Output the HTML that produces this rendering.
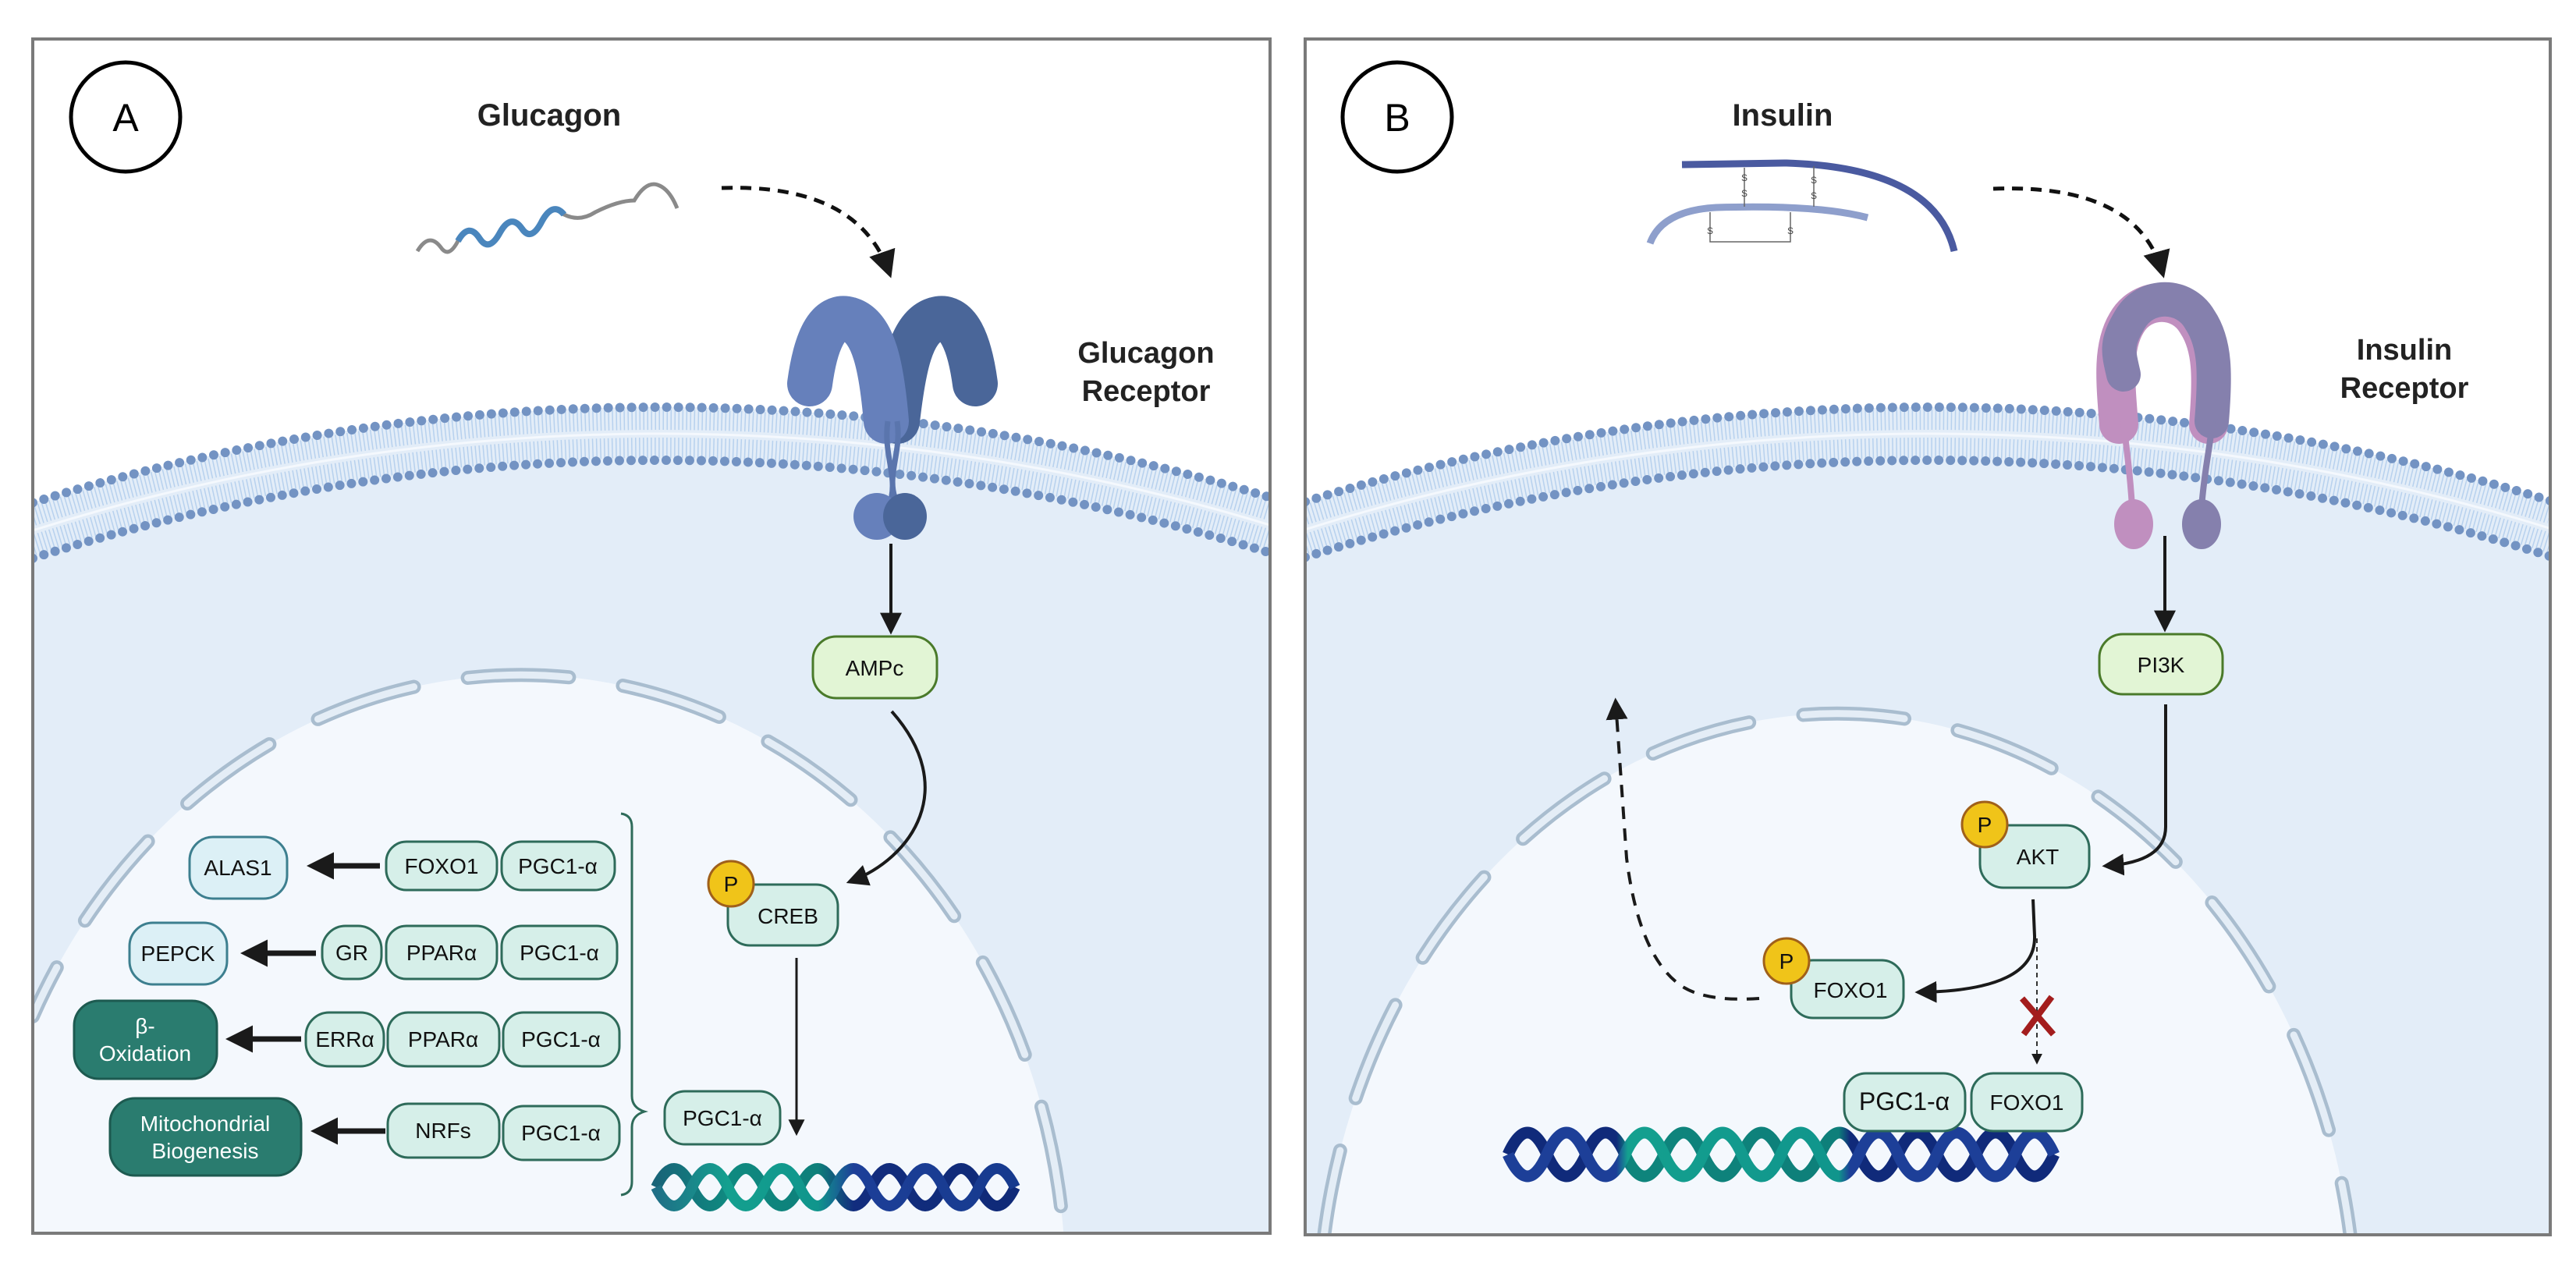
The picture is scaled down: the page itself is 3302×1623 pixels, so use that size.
<!DOCTYPE html>
<html><head><meta charset="utf-8"><style>
html,body{margin:0;padding:0;background:#fff;width:3302px;height:1623px;overflow:hidden}
svg{display:block;position:absolute;left:0;top:0}
text{font-family:"Liberation Sans",sans-serif}
</style></head><body>
<svg width="3302" height="1623" viewBox="0 0 3302 1623" xmlns="http://www.w3.org/2000/svg" overflow="hidden">
<defs>
<clipPath id="ca"><rect x="42" y="50" width="1586" height="1531"/></clipPath>
<clipPath id="cb"><rect x="1673" y="50" width="1596" height="1533"/></clipPath>
<marker id="ah" viewBox="0 0 10 10" refX="8" refY="5" markerWidth="5" markerHeight="5" orient="auto" markerUnits="strokeWidth"><path d="M0,0 L10,5 L0,10 z" fill="#1a1a1a"/></marker>
<marker id="ah2" viewBox="0 0 10 10" refX="8" refY="5" markerWidth="7" markerHeight="7" orient="auto" markerUnits="strokeWidth"><path d="M0,0 L10,5 L0,10 z" fill="#1a1a1a"/></marker>
<linearGradient id="dnaA" x1="841" y1="0" x2="1302" y2="0" gradientUnits="userSpaceOnUse">
<stop offset="0" stop-color="#1f6f86"/><stop offset="0.2" stop-color="#14a08f"/><stop offset="0.45" stop-color="#10958c"/><stop offset="0.55" stop-color="#1d3f98"/><stop offset="1" stop-color="#163a8e"/></linearGradient>
<linearGradient id="dnaA2" x1="841" y1="0" x2="1302" y2="0" gradientUnits="userSpaceOnUse">
<stop offset="0" stop-color="#186478"/><stop offset="0.2" stop-color="#0f8a80"/><stop offset="0.45" stop-color="#0e7f7a"/><stop offset="0.55" stop-color="#122d7e"/><stop offset="1" stop-color="#0f2a78"/></linearGradient>
<linearGradient id="dnaB" x1="1933" y1="0" x2="2664" y2="0" gradientUnits="userSpaceOnUse">
<stop offset="0" stop-color="#1d3f98"/><stop offset="0.19" stop-color="#1d3f98"/><stop offset="0.21" stop-color="#14a08f"/><stop offset="0.58" stop-color="#10958c"/><stop offset="0.6" stop-color="#1d3f98"/><stop offset="1" stop-color="#1d3f98"/></linearGradient>
<linearGradient id="dnaB2" x1="1933" y1="0" x2="2664" y2="0" gradientUnits="userSpaceOnUse">
<stop offset="0" stop-color="#102a7a"/><stop offset="0.19" stop-color="#102a7a"/><stop offset="0.21" stop-color="#0e857c"/><stop offset="0.58" stop-color="#0e7f7a"/><stop offset="0.6" stop-color="#102a7a"/><stop offset="1" stop-color="#102a7a"/></linearGradient>
</defs>

<!-- PANEL A -->
<g clip-path="url(#ca)">
<rect x="42" y="50" width="1586" height="1531" fill="#fff"/>
<path d="M42,644.4 A2702,2702 0 0 1 1628,637.6 L1628,1581 L42,1581 Z" fill="#e3edf8"/>
<path d="M42,661.2 A2686,2686 0 0 1 1628,654.4" fill="none" stroke="#b7d1ee" stroke-width="26" stroke-dasharray="1.5 3.5"/>
<path d="M42,698.9 A2650,2650 0 0 1 1628,692" fill="none" stroke="#b7d1ee" stroke-width="26" stroke-dasharray="1.5 3.5"/>
<path d="M42,680 A2668,2668 0 0 1 1628,673.2" fill="none" stroke="#f4f8fd" stroke-width="3"/>
<path d="M42,715.7 A2634,2634 0 0 1 1628,708.8 L1628,1581 L42,1581 Z" fill="#e3edf8"/>
<path d="M42,644.4 A2702,2702 0 0 1 1628,637.6" fill="none" stroke="#7393c3" stroke-width="12" stroke-linecap="round" stroke-dasharray="0 15"/>
<path d="M42,715.7 A2634,2634 0 0 1 1628,708.8" fill="none" stroke="#7393c3" stroke-width="12" stroke-linecap="round" stroke-dasharray="0 15"/>
<path d="M42,1303 A698,785 0 0 1 1363.3,1581 L42,1581 Z" fill="#f4f8fd"/>
<path d="M42,1303 A698,785 0 0 1 1363.3,1581" fill="none" stroke="#a9bdcf" stroke-width="18" stroke-linecap="round" stroke-dasharray="130 70" stroke-dashoffset="60"/>
<path d="M42,1303 A698,785 0 0 1 1363.3,1581" fill="none" stroke="#e4edf6" stroke-width="9" stroke-linecap="round" stroke-dasharray="130 70" stroke-dashoffset="60"/>
</g>
<rect x="42" y="50" width="1586" height="1531" fill="none" stroke="#7a7a7a" stroke-width="4"/>

<circle cx="161" cy="150" r="70" fill="none" stroke="#000" stroke-width="5"/>
<text x="161" y="168" font-size="50" text-anchor="middle">A</text>
<text x="704" y="161" font-size="40" font-weight="bold" text-anchor="middle" fill="#222">Glucagon</text>
<path d="M535,322 q15,-25 30,-5 q10,15 22,-8 q14,-25 28,-3 q12,18 26,-8 q14,-25 28,-5 q12,18 26,-10 q14,-25 28,-8 q20,10 40,-3 q30,-15 50,-15 q15,-25 30,-20 q15,5 25,30" fill="none" stroke="#8a8a8a" stroke-width="5"/>
<path d="M587,309 q14,-25 28,-3 q12,18 26,-8 q14,-25 28,-5 q12,18 26,-10 q14,-25 28,-8" fill="none" stroke="#4a86bd" stroke-width="8"/>
<path d="M925,241 Q1100,235 1140,350" fill="none" stroke="#111" stroke-width="5" stroke-dasharray="14 10" marker-end="url(#ah2)"/>
<path d="M1150,540 C1158,470 1168,420 1198,410 C1228,400 1243,440 1250,492" fill="none" stroke="#4a6699" stroke-width="58" stroke-linecap="round"/>
<path d="M1136,540 C1130,470 1120,420 1090,410 C1060,400 1045,440 1038,492" fill="none" stroke="#6680bb" stroke-width="58" stroke-linecap="round"/>
<path d="M1138,540 C1132,580 1150,610 1142,640 M1150,540 C1156,580 1136,610 1148,640" fill="none" stroke="#5a75ad" stroke-width="7"/>
<ellipse cx="1124" cy="662" rx="30" ry="30" fill="#6680bb"/>
<ellipse cx="1160" cy="662" rx="28" ry="30" fill="#4a6699"/>
<text x="1469" y="465" font-size="38" font-weight="bold" text-anchor="middle" fill="#222">Glucagon</text>
<text x="1469" y="514" font-size="38" font-weight="bold" text-anchor="middle" fill="#222">Receptor</text>
<line x1="1142" y1="697" x2="1142" y2="808" stroke="#1a1a1a" stroke-width="4" marker-end="url(#ah2)"/>

<g font-size="28" text-anchor="middle" fill="#111">
<rect x="1042" y="816" width="159" height="79" rx="30" fill="#e2f5d5" stroke="#4a7a2a" stroke-width="3"/>
<text x="1121" y="866">AMPc</text>
<path d="M1143,912 C1230,1010 1170,1100 1090,1130" fill="none" stroke="#1a1a1a" stroke-width="4" marker-end="url(#ah2)"/>
<rect x="933" y="1134" width="141" height="78" rx="28" fill="#d6efe9" stroke="#2e6b5a" stroke-width="3"/>
<text x="1010" y="1184">CREB</text>
<circle cx="937" cy="1133" r="29" fill="#f0c419" stroke="#a0601a" stroke-width="3"/>
<text x="937" y="1143">P</text>
<line x1="1021" y1="1228" x2="1021" y2="1452" stroke="#1a1a1a" stroke-width="3" marker-end="url(#ah2)"/>
<rect x="852" y="1399" width="148" height="68" rx="26" fill="#d6efe9" stroke="#2e6b5a" stroke-width="3"/>
<text x="926" y="1443">PGC1-α</text>
<path d="M796,1043 Q810,1045 810,1060 L810,1405 Q810,1420 826,1425 Q810,1430 810,1445 L810,1515 Q810,1530 796,1532" fill="none" stroke="#2e6b5a" stroke-width="3"/>

<rect x="243" y="1073" width="125" height="79" rx="30" fill="#dcf0f6" stroke="#3d7f8f" stroke-width="3"/>
<text x="305" y="1122">ALAS1</text>
<line x1="487" y1="1110" x2="400" y2="1110" stroke="#1a1a1a" stroke-width="7" marker-end="url(#ah)"/>
<rect x="495" y="1079" width="142" height="62" rx="26" fill="#d6efe9" stroke="#2e6b5a" stroke-width="3"/>
<text x="566" y="1120">FOXO1</text>
<rect x="643" y="1079" width="145" height="62" rx="26" fill="#d6efe9" stroke="#2e6b5a" stroke-width="3"/>
<text x="715" y="1120">PGC1-α</text>

<rect x="166" y="1183" width="125" height="79" rx="30" fill="#dcf0f6" stroke="#3d7f8f" stroke-width="3"/>
<text x="228" y="1232">PEPCK</text>
<line x1="405" y1="1222" x2="315" y2="1222" stroke="#1a1a1a" stroke-width="7" marker-end="url(#ah)"/>
<rect x="413" y="1187" width="76" height="68" rx="30" fill="#d6efe9" stroke="#2e6b5a" stroke-width="3"/>
<text x="451" y="1231">GR</text>
<rect x="495" y="1187" width="142" height="68" rx="26" fill="#d6efe9" stroke="#2e6b5a" stroke-width="3"/>
<text x="566" y="1231">PPARα</text>
<rect x="643" y="1187" width="148" height="68" rx="26" fill="#d6efe9" stroke="#2e6b5a" stroke-width="3"/>
<text x="717" y="1231">PGC1-α</text>

<rect x="95" y="1283" width="183" height="100" rx="32" fill="#2a7c6f" stroke="#1d5a50" stroke-width="3"/>
<text x="186" y="1325" fill="#fff">β-</text>
<text x="186" y="1360" fill="#fff">Oxidation</text>
<line x1="386" y1="1332" x2="296" y2="1332" stroke="#1a1a1a" stroke-width="7" marker-end="url(#ah)"/>
<rect x="392" y="1298" width="100" height="69" rx="30" fill="#d6efe9" stroke="#2e6b5a" stroke-width="3"/>
<text x="442" y="1342">ERRα</text>
<rect x="497" y="1298" width="143" height="69" rx="26" fill="#d6efe9" stroke="#2e6b5a" stroke-width="3"/>
<text x="568" y="1342">PPARα</text>
<rect x="645" y="1298" width="149" height="69" rx="26" fill="#d6efe9" stroke="#2e6b5a" stroke-width="3"/>
<text x="719" y="1342">PGC1-α</text>

<rect x="141" y="1408" width="245" height="99" rx="32" fill="#2a7c6f" stroke="#1d5a50" stroke-width="3"/>
<text x="263" y="1450" fill="#fff">Mitochondrial</text>
<text x="263" y="1485" fill="#fff">Biogenesis</text>
<line x1="494" y1="1450" x2="405" y2="1450" stroke="#1a1a1a" stroke-width="7" marker-end="url(#ah)"/>
<rect x="497" y="1415" width="143" height="69" rx="26" fill="#d6efe9" stroke="#2e6b5a" stroke-width="3"/>
<text x="568" y="1459">NRFs</text>
<rect x="645" y="1418" width="149" height="69" rx="26" fill="#d6efe9" stroke="#2e6b5a" stroke-width="3"/>
<text x="719" y="1462">PGC1-α</text>
</g>
<path d="M841,1522 q23,-48 46,0 t46,0 t46,0 t46,0 t46,0 t46,0 t46,0 t46,0 t46,0 t46,0" fill="none" stroke="url(#dnaA2)" stroke-width="14"/>
<path d="M841,1522 q23,48 46,0 t46,0 t46,0 t46,0 t46,0 t46,0 t46,0 t46,0 t46,0 t46,0" fill="none" stroke="url(#dnaA)" stroke-width="14"/>

<!-- PANEL B -->
<g clip-path="url(#cb)">
<rect x="1673" y="50" width="1596" height="1533" fill="#fff"/>
<path d="M1673,643.1 A2702,2702 0 0 1 3269,641.9 L3269,1583 L1673,1583 Z" fill="#e3edf8"/>
<path d="M1673,659.9 A2686,2686 0 0 1 3269,658.7" fill="none" stroke="#b7d1ee" stroke-width="26" stroke-dasharray="1.5 3.5"/>
<path d="M1673,697.6 A2650,2650 0 0 1 3269,696.4" fill="none" stroke="#b7d1ee" stroke-width="26" stroke-dasharray="1.5 3.5"/>
<path d="M1673,678.8 A2668,2668 0 0 1 3269,677.5" fill="none" stroke="#f4f8fd" stroke-width="3"/>
<path d="M1673,714.4 A2634,2634 0 0 1 3269,713.2 L3269,1583 L1673,1583 Z" fill="#e3edf8"/>
<path d="M1673,643.1 A2702,2702 0 0 1 3269,641.9" fill="none" stroke="#7393c3" stroke-width="12" stroke-linecap="round" stroke-dasharray="0 15"/>
<path d="M1673,714.4 A2634,2634 0 0 1 3269,713.2" fill="none" stroke="#7393c3" stroke-width="12" stroke-linecap="round" stroke-dasharray="0 15"/>
<path d="M1697.4,1583 A665,785 0 0 1 3012.6,1583 Z" fill="#f4f8fd"/>
<path d="M1697.4,1583 A665,785 0 0 1 3012.6,1583" fill="none" stroke="#a9bdcf" stroke-width="18" stroke-linecap="round" stroke-dasharray="130 70" stroke-dashoffset="20"/>
<path d="M1697.4,1583 A665,785 0 0 1 3012.6,1583" fill="none" stroke="#e4edf6" stroke-width="9" stroke-linecap="round" stroke-dasharray="130 70" stroke-dashoffset="20"/>
</g>
<rect x="1673" y="50" width="1596" height="1533" fill="none" stroke="#7a7a7a" stroke-width="4"/>

<circle cx="1791" cy="150" r="70" fill="none" stroke="#000" stroke-width="5"/>
<text x="1791" y="168" font-size="50" text-anchor="middle">B</text>
<text x="2285" y="161" font-size="40" font-weight="bold" text-anchor="middle" fill="#222">Insulin</text>
<path d="M2156,211 L2290,209 Q2480,215 2505,322" fill="none" stroke="#4a5aa0" stroke-width="9"/>
<path d="M2115,312 Q2130,270 2200,266 Q2330,262 2394,279" fill="none" stroke="#8e9fcc" stroke-width="9"/>
<g stroke="#666" stroke-width="1.5" fill="none">
<line x1="2236" y1="215" x2="2236" y2="265"/><line x1="2325" y1="213" x2="2325" y2="265"/>
<path d="M2192,272 L2192,310 L2295,310 L2295,272"/>
</g>
<g font-size="12" fill="#444" text-anchor="middle">
<text x="2236" y="232">S</text><text x="2236" y="252">S</text><text x="2325" y="235">S</text><text x="2325" y="255">S</text>
<text x="2192" y="300">S</text><text x="2295" y="300">S</text></g>
<path d="M2555,242 Q2740,235 2772,350" fill="none" stroke="#111" stroke-width="5" stroke-dasharray="14 10" marker-end="url(#ah2)"/>
<path d="M2720,540 C2715,480 2712,440 2730,410 C2750,375 2800,375 2820,410 C2840,440 2840,480 2835,540" fill="none" stroke="#c08fbf" stroke-width="50" stroke-linecap="round" transform="translate(-4,4)"/>
<path d="M2722,480 C2715,450 2712,440 2730,410 C2750,375 2800,375 2820,410 C2840,440 2840,480 2835,540" fill="none" stroke="#8580ad" stroke-width="44" stroke-linecap="round"/>
<path d="M2722,540 C2726,580 2730,600 2733,650" fill="none" stroke="#c08fbf" stroke-width="8"/>
<path d="M2836,540 C2832,580 2826,600 2822,650" fill="none" stroke="#8580ad" stroke-width="8"/>
<ellipse cx="2735" cy="672" rx="25" ry="32" fill="#c08fbf"/>
<ellipse cx="2822" cy="672" rx="25" ry="32" fill="#8580ad"/>
<text x="3082" y="461" font-size="38" font-weight="bold" text-anchor="middle" fill="#222">Insulin</text>
<text x="3082" y="510" font-size="38" font-weight="bold" text-anchor="middle" fill="#222">Receptor</text>
<line x1="2775" y1="687" x2="2775" y2="805" stroke="#1a1a1a" stroke-width="4" marker-end="url(#ah2)"/>

<g font-size="28" text-anchor="middle" fill="#111">
<rect x="2691" y="813" width="158" height="77" rx="30" fill="#e2f5d5" stroke="#4a7a2a" stroke-width="3"/>
<text x="2770" y="862">PI3K</text>
<path d="M2776,903 L2776,1060 Q2776,1105 2700,1110" fill="none" stroke="#1a1a1a" stroke-width="4" marker-end="url(#ah2)"/>
<rect x="2538" y="1058" width="140" height="80" rx="30" fill="#d6efe9" stroke="#2e6b5a" stroke-width="3"/>
<text x="2612" y="1108">AKT</text>
<circle cx="2544" cy="1057" r="29" fill="#f0c419" stroke="#a0601a" stroke-width="3"/>
<text x="2544" y="1067">P</text>
<path d="M2606,1153 L2608,1200 Q2610,1270 2460,1272" fill="none" stroke="#1a1a1a" stroke-width="4" marker-end="url(#ah2)"/>
<path d="M2255,1280 Q2180,1285 2150,1260 Q2100,1220 2085,1100 L2071,900" fill="none" stroke="#1a1a1a" stroke-width="4" stroke-dasharray="16 12" marker-end="url(#ah2)"/>
<rect x="2296" y="1231" width="144" height="74" rx="28" fill="#d6efe9" stroke="#2e6b5a" stroke-width="3"/>
<text x="2372" y="1279">FOXO1</text>
<circle cx="2290" cy="1232" r="29" fill="#f0c419" stroke="#a0601a" stroke-width="3"/>
<text x="2290" y="1242">P</text>
<line x1="2611" y1="1203" x2="2611" y2="1362" stroke="#333" stroke-width="2" stroke-dasharray="6 5" marker-end="url(#ah2)"/>
<path d="M2592,1280 L2632,1326 M2630,1278 L2594,1326" stroke="#a31d1d" stroke-width="8"/>
<path d="M1933,1480 q25,-56 50,0 t50,0 t50,0 t50,0 t50,0 t50,0 t50,0 t50,0 t50,0 t50,0 t50,0 t50,0 t50,0 t50,0" fill="none" stroke="url(#dnaB2)" stroke-width="15"/>
<path d="M1933,1480 q25,56 50,0 t50,0 t50,0 t50,0 t50,0 t50,0 t50,0 t50,0 t50,0 t50,0 t50,0 t50,0 t50,0 t50,0" fill="none" stroke="url(#dnaB)" stroke-width="15"/>
<rect x="2364" y="1376" width="155" height="74" rx="28" fill="#d6efe9" stroke="#2e6b5a" stroke-width="3"/>
<text x="2441" y="1423" font-size="32">PGC1-α</text>
<rect x="2527" y="1376" width="142" height="74" rx="28" fill="#d6efe9" stroke="#2e6b5a" stroke-width="3"/>
<text x="2598" y="1423">FOXO1</text>
</g>
</svg>
</body></html>
